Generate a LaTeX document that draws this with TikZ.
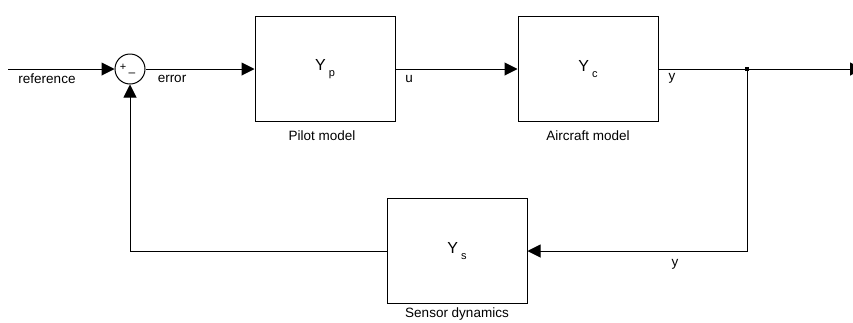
\documentclass[tikz,border=0pt]{standalone}
\usepackage{fontspec}
\setmainfont{Liberation Sans}
\usetikzlibrary{arrows.meta}
\begin{document}
\begin{tikzpicture}[x=1pt,y=-1pt,
  block/.style={draw, line width=1pt, minimum width=140pt, minimum height=105pt, inner sep=0pt},
  sig/.style={font=\fontsize{13.5}{15}\selectfont},
  gain/.style={font=\fontsize{16}{18}\selectfont},
  flow/.style={line width=1pt, -{Triangle[length=13pt,width=13pt]}},
  wire/.style={line width=1pt}]
\useasboundingbox (0,0) rectangle (853,322);
\clip (0,0) rectangle (853,322);

% Draw blocks
\node[block] (pilot) at (325,69) {};
\node[block] (aircraft) at (588,69) {};
\node[block] (sensor) at (457,251) {};
\node[gain] (yp) at (pilot) {Y\kern3pt\raisebox{-6pt}{\fontsize{11}{11}\selectfont p}};
\node[gain] (yc) at (aircraft) {Y\kern3pt\raisebox{-6pt}{\fontsize{11}{11}\selectfont c}};
\node[gain] (ys) at (sensor) {Y\kern3pt\raisebox{-6pt}{\fontsize{11}{11}\selectfont s}};

% Summing junction
\node[draw, circle, line width=1pt, minimum size=30pt, inner sep=0pt] (sum) at (130,69) {};
\node[font=\fontsize{11}{11}\selectfont, inner sep=0pt] (plus) at (123,67) {+};
\node[font=\fontsize{12}{12}\selectfont, inner sep=0pt] (minus) at (132,75) {\textendash};

% Signal points
\coordinate (in) at (8,69);
\coordinate (split) at (747,69);
\coordinate (out) at (863,69);

% Connectors
\draw[flow] (in) -- (sum.west);
\draw[flow] (sum.east) -- (pilot.west);
\draw[flow] (pilot.east) -- (aircraft.west);
\draw[wire] (aircraft.east) -- (split);
\draw[flow] (split) -- (out);
\fill (split) ++(-2,-2) rectangle ++(4,4);
\draw[flow] (split) |- (sensor.east);
\draw[flow] (sensor.west) -| (sum.south);

% Labels
\node[sig] (lref) at (47,79) {reference};
\node[sig] (lerr) at (172,79) {error};
\node[sig] (lu) at (409,79) {u};
\node[sig] (ly) at (672,78) {y};
\node[sig] (lyfb) at (675,264) {y};
\node[sig] (lpilot) at (322,136) {Pilot model};
\node[sig] (lair) at (588,136) {Aircraft model};
\node[sig] (lsens) at (457,314) {Sensor dynamics};

\end{tikzpicture}
\end{document}
